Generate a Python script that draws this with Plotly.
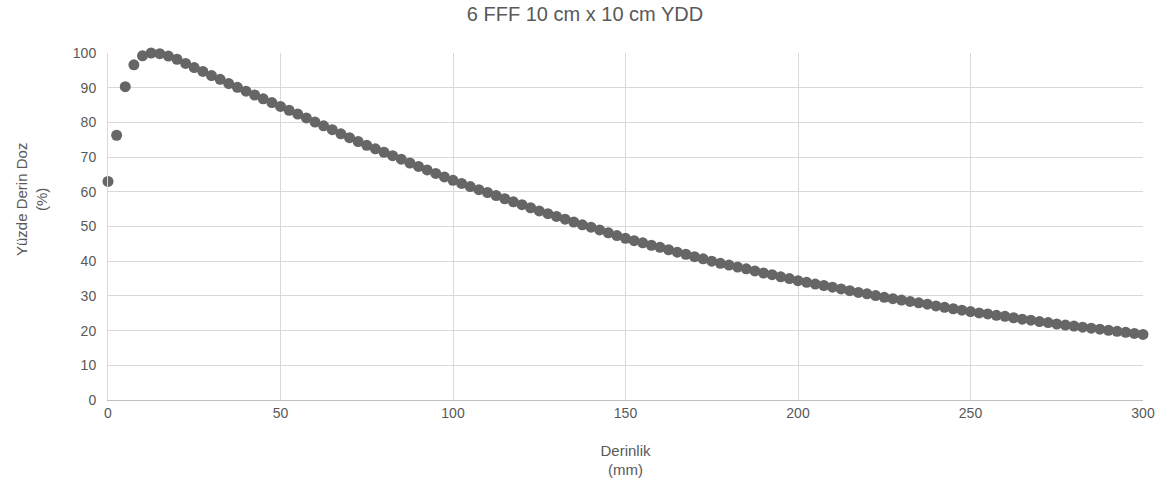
import plotly.graph_objects as go

depth_mm = [i * 2.5 for i in range(121)]

pdd = [
    63.0, 76.3, 90.3, 96.6, 99.2, 100.0, 99.8, 99.1, 98.2, 97.0, 95.8,
    94.7, 93.5, 92.4, 91.2, 90.1, 89.0, 87.9, 86.8, 85.7, 84.6,
    83.5, 82.4, 81.3, 80.1, 79.0, 77.9, 76.7, 75.6, 74.5, 73.4,
    72.4, 71.4, 70.4, 69.4, 68.3, 67.3, 66.3, 65.3, 64.3, 63.3,
    62.4, 61.5, 60.6, 59.8, 58.9, 58.0, 57.1, 56.3, 55.4, 54.5,
    53.7, 52.9, 52.1, 51.3, 50.5, 49.8, 49.0, 48.2, 47.4, 46.6,
    45.9, 45.3, 44.6, 44.0, 43.3, 42.6, 42.0, 41.3, 40.7, 40.0,
    39.4, 38.9, 38.3, 37.8, 37.2, 36.6, 36.1, 35.5, 35.0, 34.4,
    33.9, 33.4, 33.0, 32.5, 32.0, 31.5, 31.0, 30.6, 30.1, 29.6,
    29.2, 28.8, 28.4, 28.0, 27.6, 27.1, 26.7, 26.3, 25.9, 25.5,
    25.1, 24.8, 24.4, 24.1, 23.7, 23.3, 23.0, 22.6, 22.3, 21.9,
    21.6, 21.3, 21.0, 20.7, 20.4, 20.1, 19.8, 19.5, 19.2, 18.9,
]

x_ticks = [0, 50, 100, 150, 200, 250, 300]
y_ticks = [0, 10, 20, 30, 40, 50, 60, 70, 80, 90, 100]

title_text = "6 FFF 10 cm x 10 cm YDD"
x_title = "Derinlik<br>(mm)"
y_title = "Yüzde Derin Doz<br>(%)"

font_family = "Liberation Sans, Arial, sans-serif"
text_color = "#595959"
grid_color = "#d9d9d9"

fig = go.Figure(
    go.Scatter(
        x=depth_mm,
        y=pdd,
        mode="markers",
        marker=dict(color="#666666", size=11, line=dict(width=0)),
        cliponaxis=False,
        showlegend=False,
    )
)

fig.update_layout(
    width=1170,
    height=489,
    paper_bgcolor="white",
    plot_bgcolor="white",
    margin=dict(l=108, r=27, t=53, b=89),
    font=dict(family=font_family, color=text_color, size=14),
    title=dict(
        text=title_text,
        x=0.5,
        xanchor="center",
        y=1 - 14 / 489,
        yanchor="middle",
        font=dict(size=20, color=text_color, family=font_family),
    ),
)

fig.add_annotation(
    text=y_title,
    xref="paper",
    yref="paper",
    x=-(108 - 31) / (1170 - 108 - 27),
    y=(400 - 200) / (400 - 53),
    xanchor="center",
    yanchor="middle",
    textangle=-90,
    showarrow=False,
    font=dict(size=15, color=text_color, family=font_family),
)

fig.update_xaxes(
    range=[0, 300],
    tickvals=x_ticks,
    showgrid=True,
    gridcolor=grid_color,
    gridwidth=1,
    zeroline=False,
    showline=True,
    linecolor="#bfbfbf",
    linewidth=1,
    ticks="",
    tickfont=dict(size=14, color=text_color),
    title=dict(text=x_title, font=dict(size=15, color=text_color), standoff=25),
)

fig.update_yaxes(
    range=[0, 100],
    tickvals=y_ticks,
    showgrid=True,
    gridcolor=grid_color,
    gridwidth=1,
    zeroline=False,
    showline=True,
    linecolor="#d9d9d9",
    linewidth=1,
    ticks="",
    ticklabelstandoff=8,
    tickfont=dict(size=14, color=text_color),
)

fig.write_html("out.html")
